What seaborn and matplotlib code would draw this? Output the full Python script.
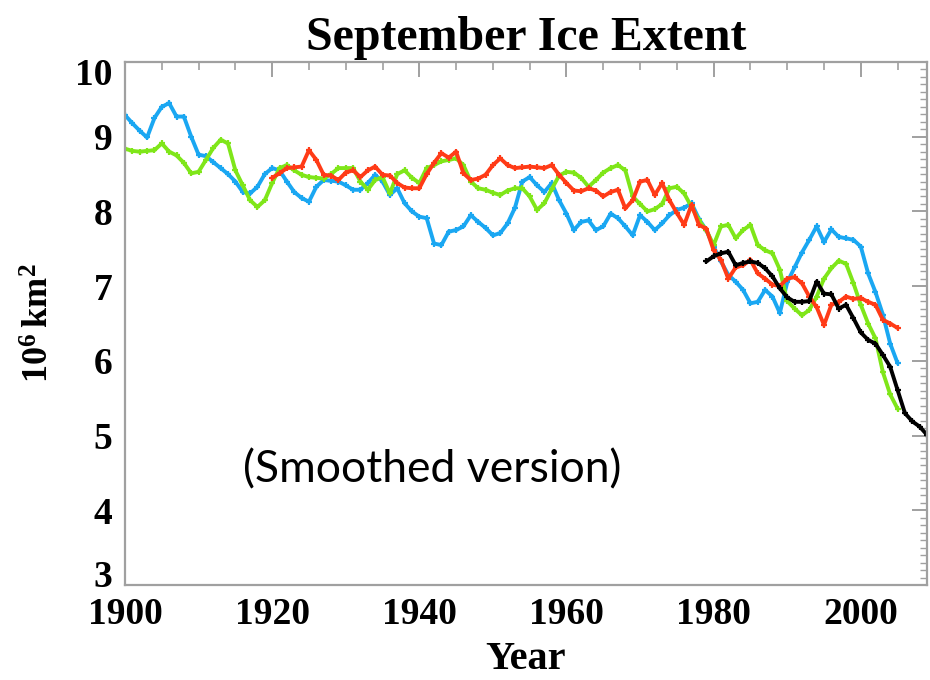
import numpy as np
import pandas as pd
import matplotlib
matplotlib.use("Agg")
import matplotlib.pyplot as plt
import seaborn as sns
from matplotlib.ticker import MultipleLocator
from matplotlib.transforms import ScaledTranslation

# ---------------- data ----------------
years_blue = list(range(1900, 2006))
blue_vals = [9.29, 9.18, 9.08, 8.99, 9.25, 9.40, 9.45, 9.27, 9.27, 9.00,
             8.76, 8.74, 8.66, 8.58, 8.50, 8.40, 8.26, 8.24, 8.33, 8.50,
             8.58, 8.55, 8.40, 8.26, 8.18, 8.13, 8.33, 8.42, 8.41, 8.40,
             8.35, 8.29, 8.29, 8.38, 8.49, 8.40, 8.22, 8.31, 8.11, 8.00,
             7.93, 7.91, 7.57, 7.55, 7.73, 7.75, 7.80, 7.95, 7.86, 7.78,
             7.68, 7.71, 7.84, 8.05, 8.40, 8.46, 8.35, 8.26, 8.38, 8.15,
             7.97, 7.75, 7.86, 7.88, 7.75, 7.80, 7.97, 7.91, 7.80, 7.68,
             7.95, 7.86, 7.75, 7.84, 7.95, 8.02, 8.05, 8.11, 7.90, 7.75,
             7.53, 7.33, 7.15, 7.06, 6.95, 6.77, 6.79, 6.95, 6.86, 6.64,
             7.05, 7.25, 7.45, 7.62, 7.80, 7.59, 7.76, 7.66, 7.64, 7.62,
             7.53, 7.17, 6.92, 6.62, 6.23, 5.97]

years_green = list(range(1900, 2006))
green_vals = [8.84, 8.81, 8.80, 8.81, 8.82, 8.91, 8.80, 8.75, 8.65, 8.51,
              8.53, 8.69, 8.85, 8.96, 8.91, 8.55, 8.35, 8.15, 8.06, 8.15,
              8.38, 8.58, 8.62, 8.55, 8.49, 8.46, 8.45, 8.44, 8.50, 8.58,
              8.58, 8.58, 8.40, 8.29, 8.42, 8.46, 8.24, 8.50, 8.55, 8.45,
              8.38, 8.58, 8.62, 8.67, 8.69, 8.71, 8.62, 8.40, 8.31, 8.29,
              8.25, 8.22, 8.28, 8.31, 8.31, 8.20, 8.02, 8.11, 8.30, 8.48,
              8.53, 8.52, 8.45, 8.33, 8.42, 8.52, 8.58, 8.62, 8.55, 8.20,
              8.10, 8.00, 8.03, 8.10, 8.31, 8.33, 8.24, 8.06, 7.88, 7.75,
              7.55, 7.80, 7.82, 7.64, 7.75, 7.82, 7.55, 7.48, 7.44, 7.22,
              6.80, 6.70, 6.61, 6.68, 6.86, 7.10, 7.24, 7.34, 7.30, 7.04,
              6.75, 6.50, 6.30, 5.85, 5.55, 5.36]

years_red = list(range(1920, 2006))
red_vals = [8.45, 8.51, 8.58, 8.59, 8.60, 8.82, 8.69, 8.49, 8.48, 8.42,
            8.52, 8.55, 8.46, 8.55, 8.60, 8.49, 8.48, 8.38, 8.32, 8.31,
            8.31, 8.50, 8.65, 8.78, 8.72, 8.80, 8.51, 8.42, 8.44, 8.49,
            8.62, 8.71, 8.62, 8.58, 8.59, 8.60, 8.59, 8.58, 8.62, 8.49,
            8.38, 8.28, 8.27, 8.31, 8.28, 8.20, 8.26, 8.29, 8.04, 8.15,
            8.40, 8.42, 8.22, 8.38, 8.15, 7.98, 7.82, 8.09, 7.82, 7.77,
            7.48, 7.35, 7.10, 7.25, 7.28, 7.35, 7.17, 7.10, 7.02, 7.00,
            7.10, 7.12, 7.04, 6.86, 6.72, 6.48, 6.75, 6.79, 6.86, 6.83,
            6.84, 6.79, 6.75, 6.55, 6.50, 6.44]

years_black = list(range(1979, 2010))
black_vals = [7.33, 7.40, 7.44, 7.46, 7.28, 7.31, 7.33, 7.31, 7.24, 7.13,
              6.97, 6.85, 6.79, 6.79, 6.80, 7.06, 6.90, 6.89, 6.70, 6.75,
              6.57, 6.38, 6.28, 6.23, 6.08, 5.92, 5.61, 5.30, 5.19, 5.12,
              5.01]

series = [
    (years_blue, blue_vals, "#1aa7f2"),
    (years_green, green_vals, "#7fe619"),
    (years_red, red_vals, "#ff3b17"),
    (years_black, black_vals, "#000000"),
]

x_major = [1900, 1920, 1940, 1960, 1980, 2000]
y_major = [3, 4, 5, 6, 7, 8, 9, 10]

# ---------------- plot ----------------
sns.set_theme(style="white")
plt.rcParams["mathtext.fontset"] = "custom"
plt.rcParams["mathtext.rm"] = "Liberation Serif"
plt.rcParams["mathtext.bf"] = "Liberation Serif:bold"

serif = ["Liberation Serif", "DejaVu Serif"]

fig = plt.figure(figsize=(9.3, 6.8), dpi=100)
ax = fig.add_axes([125 / 930, 1 - 585 / 680, (927 - 125) / 930, (585 - 62) / 680])

for yrs, vals, col in series:
    df = pd.DataFrame({"year": yrs, "ext": vals})
    sns.lineplot(data=df, x="year", y="ext", color=col, lw=2.8,
                 marker="+", markersize=5, markeredgewidth=1.6,
                 markeredgecolor=col, ax=ax, legend=False)

ax.set_xlim(1900, 2009)
ax.set_ylim(3, 10)
ax.set_xticks(x_major)
ax.set_yticks(y_major)
ax.xaxis.set_minor_locator(MultipleLocator(5))
ax.yaxis.set_minor_locator(MultipleLocator(0.1))

ax.tick_params(axis="both", which="both", direction="in", top=True, right=True,
               color="#a0a0a0", labelcolor="black")
ax.tick_params(axis="both", which="major", length=11, width=1.4)
ax.tick_params(axis="y", which="minor", length=5, width=1.0)
ax.tick_params(axis="x", which="minor", length=6, width=1.2)
ax.tick_params(axis="x", which="major", pad=9)
ax.tick_params(axis="y", which="major", pad=9)

for lab in ax.get_xticklabels() + ax.get_yticklabels():
    lab.set_family(serif)
    lab.set_fontweight("bold")
    lab.set_fontsize(27)
    lab.set_color("black")

# IDL-style: end labels nudged inward
yt = ax.yaxis.get_major_ticks()
yt[0].label1.set_transform(yt[0].label1.get_transform() +
                           ScaledTranslation(0, 8 / 72, fig.dpi_scale_trans))
yt[-1].label1.set_transform(yt[-1].label1.get_transform() +
                            ScaledTranslation(0, -7 / 72, fig.dpi_scale_trans))

for sp in ax.spines.values():
    sp.set_color("#a0a0a0")
    sp.set_linewidth(1.6)

ax.set_title("September Ice Extent", family=serif, fontweight="bold",
             fontsize=34.5, pad=9, color="black")
ax.set_xlabel("Year", family=serif, fontweight="bold", fontsize=29,
              labelpad=6, color="black")
ax.set_ylabel(r"$\mathbf{10^{6}\,km^{2}}$", fontsize=26, labelpad=14,
              color="black")

ax.text(1916.0, 4.54, "(Smoothed version)", family=["Lato", "DejaVu Sans"],
        fontsize=32, va="center", ha="left", color="black")

ax.grid(False)
fig.savefig("out.png", dpi=100)
